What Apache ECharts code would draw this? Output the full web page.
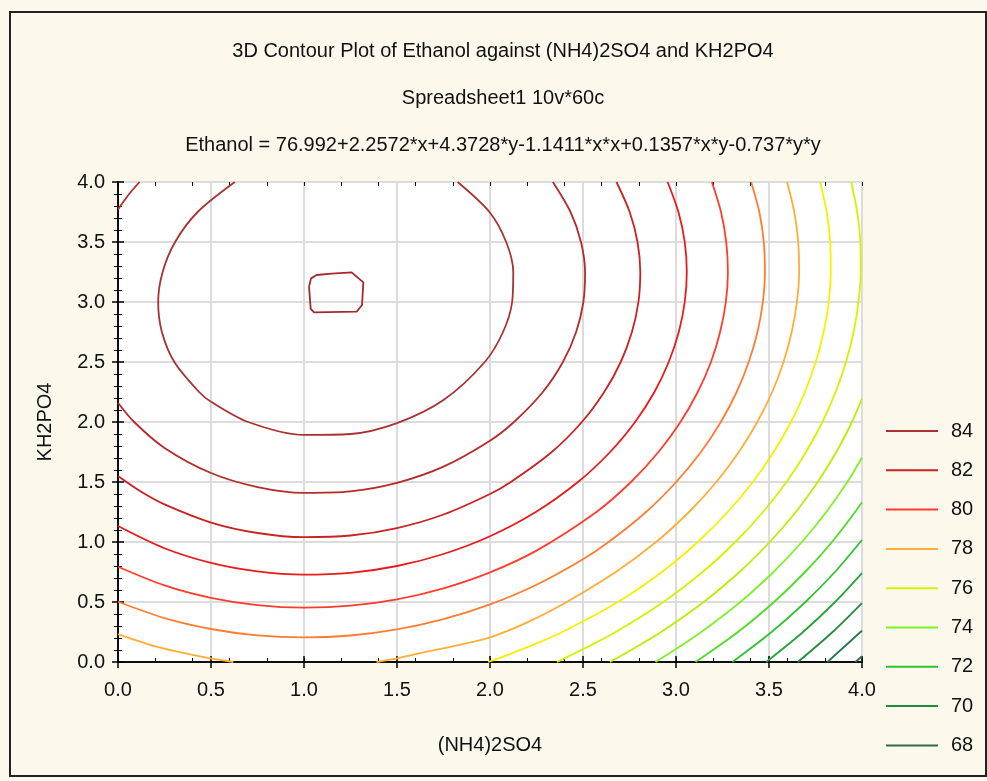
<!DOCTYPE html>
<html><head><meta charset="utf-8">
<script src="https://cdn.jsdelivr.net/npm/echarts@6/dist/echarts.min.js"></script>
<style>html,body{margin:0;padding:0;background:#fcf8ec;}#c{width:987px;height:781px;}</style>
</head><body><div id="c"></div>
<script>
// ---- text ----
const titleLines = ['3D Contour Plot of Ethanol against (NH4)2SO4 and KH2PO4', 'Spreadsheet1 10v*60c',
  'Ethanol = 76.992+2.2572*x+4.3728*y-1.1411*x*x+0.1357*x*y-0.737*y*y'];
const xName = '(NH4)2SO4';
const yName = 'KH2PO4';
const legendLevels = ['84', '82', '80', '78', '76', '74', '72', '70', '68'];

// ---- contour lines: [x, y] points, per level ----
const c85 = [[1.027,3.128],[1.038,3.197],[1.068,3.225],[1.149,3.236],[1.256,3.247],[1.319,3.164],[1.312,2.975],[1.283,2.919],[1.054,2.914],[1.036,2.942],[1.027,3.128]];
const c84 = [[0.628,4],[0.428,3.75],[0.307,3.5],[0.240,3.25],[0.216,3.0],[0.236,2.75],[0.303,2.5],[0.436,2.25],[0.5,2.169],[0.700,2.0],[1.0,1.892],[1.25,1.900],[1.5,1.991],[1.75,2.183],[1.972,2.5],[2.070,2.75],[2.119,3.0],[2.125,3.25],[2.087,3.5],[1.997,3.75],[1.826,4.0]];
const c83a = [[0,3.772],[0.060,3.9],[0.116,4]];
const c83b = [[0,2.161],[0.087,2.0],[0.25,1.784],[0.5,1.575],[0.75,1.458],[1.0,1.410],[1.25,1.422],[1.5,1.493],[1.75,1.628],[2.0,1.844],[2.129,2.0],[2.284,2.25],[2.392,2.5],[2.463,2.75],[2.502,3.0],[2.511,3.25],[2.489,3.5],[2.433,3.75],[2.338,4.0]];
const c82 = [[0,1.550],[0.125,1.418],[0.25,1.313],[0.5,1.162],[0.75,1.075],[1.0,1.040],[1.25,1.054],[1.5,1.116],[1.75,1.229],[2.0,1.400],[2.112,1.5],[2.332,1.75],[2.494,2.0],[2.614,2.25],[2.703,2.5],[2.763,2.75],[2.798,3.0],[2.808,3.25],[2.793,3.5],[2.751,3.75],[2.680,4.0]];
const c81 = [[0,1.133],[0.25,0.948],[0.5,0.826],[0.75,0.755],[1.0,0.728],[1.25,0.743],[1.5,0.800],[1.75,0.900],[2.0,1.048],[2.246,1.25],[2.473,1.5],[2.646,1.75],[2.780,2.0],[2.884,2.25],[2.961,2.5],[3.015,2.75],[3.047,3.0],[3.058,3.25],[3.047,3.5],[3.013,3.75],[2.955,4.0]];
const c80 = [[0,0.794],[0.25,0.639],[0.5,0.535],[0.75,0.474],[1.0,0.453],[1.25,0.469],[1.5,0.522],[1.75,0.614],[2.0,0.747],[2.25,0.928],[2.572,1.25],[2.758,1.5],[2.906,1.75],[3.024,2.0],[3.117,2.25],[3.188,2.5],[3.237,2.75],[3.268,3.0],[3.279,3.25],[3.270,3.5],[3.242,3.75],[3.193,4.0]];
const c79 = [[0,0.502],[0.25,0.366],[0.5,0.275],[0.75,0.222],[1.0,0.205],[1.25,0.221],[1.5,0.272],[1.75,0.357],[2.0,0.480],[2.25,0.644],[2.5,0.857],[2.638,1.0],[2.839,1.25],[3.001,1.5],[3.134,1.75],[3.241,2.0],[3.326,2.25],[3.391,2.5],[3.438,2.75],[3.467,3.0],[3.478,3.25],[3.472,3.5],[3.448,3.75],[3.404,4.0]];
const c78a = [[0,0.232],[0.2,0.13],[0.4,0.06],[0.5,0.03],[0.62,0]];
const c78b = [[1.39,0],[1.5,0.03],[1.66,0.086],[1.8,0.13],[2.0,0.205],[2.2,0.33],[2.401,0.49],[2.676,0.75],[2.893,1.0],[3.070,1.25],[3.217,1.5],[3.338,1.75],[3.437,2.0],[3.517,2.25],[3.578,2.5],[3.622,2.75],[3.650,3.0],[3.662,3.25],[3.657,3.5],[3.636,3.75],[3.597,4.0]];
const c77 = [[1.99,0],[2.1,0.062],[2.25,0.155],[2.389,0.25],[2.688,0.5],[2.924,0.75],[3.117,1.0],[3.278,1.25],[3.413,1.5],[3.525,1.75],[3.618,2.0],[3.693,2.25],[3.751,2.5],[3.794,2.75],[3.821,3.0],[3.832,3.25],[3.829,3.5],[3.810,3.75],[3.775,4.0]];
const c76 = [[2.36,0],[2.5,0.107],[2.676,0.25],[2.932,0.5],[3.143,0.75],[3.319,1.0],[3.468,1.25],[3.594,1.5],[3.699,1.75],[3.787,2.0],[3.858,2.25],[3.914,2.5],[3.955,2.75],[3.981,3.0],[3.993,3.25],[3.991,3.5],[3.974,3.75],[3.942,4.0]];
const c75 = [[2.645,0],[2.75,0.092],[2.920,0.25],[3.149,0.5],[3.341,0.75],[3.504,1.0],[3.644,1.25],[3.762,1.5],[3.862,1.75],[3.946,2.0],[4,2.194]];
const c74 = [[2.89,0],[3.0,0.108],[3.136,0.25],[3.346,0.5],[3.524,0.75],[3.677,1.0],[3.808,1.25],[3.921,1.5],[4,1.704]];
const c73 = [[3.105,0],[3.333,0.25],[3.527,0.5],[3.694,0.75],[3.839,1.0],[3.963,1.25],[4,1.331]];
const c72 = [[3.303,0],[3.514,0.25],[3.696,0.5],[3.854,0.75],[4,1.017]];
const c71 = [[3.485,0],[3.683,0.25],[3.855,0.5],[4,0.741]];
const c70 = [[3.655,0],[3.842,0.25],[4,0.491]];
const c69 = [[3.814,0],[3.992,0.25],[4,0.262]];
const c68 = [[3.965,0],[4,0.049]];

const levelColors = {
  '85':'#a3292b','84':'#a83232','83':'#b52a2a','82':'#c82222','81':'#ea1a1a','80':'#ff3c2c',
  '79':'#ff7c30','78':'#ffad38','77':'#f6f000','76':'#d6f200','75':'#b8f000','74':'#80f028',
  '73':'#4cde22','72':'#30c230','71':'#26a43a','70':'#248a3e','69':'#25784a','68':'#2c6a52'
};

const lines = [
  ['85', c85], ['84', c84], ['83', c83a], ['83', c83b], ['82', c82], ['81', c81], ['80', c80],
  ['79', c79], ['78', c78a], ['78', c78b], ['77', c77], ['76', c76], ['75', c75], ['74', c74],
  ['73', c73], ['72', c72], ['71', c71], ['70', c70], ['69', c69], ['68', c68]
];

const FONT = 'Liberation Sans, Arial, sans-serif';
const txt = {color: '#111', fontFamily: FONT, fontSize: 20};
const fmt = v => v.toFixed(1);

const series = lines.map(([name, pts]) => ({
  type: 'line', name: name, data: pts, xAxisIndex: 0, yAxisIndex: 0,
  symbol: 'none', smooth: name === '85' ? false : 0.3, clip: true,
  lineStyle: {color: levelColors[name], width: 1.8},
  itemStyle: {color: levelColors[name]},
  emphasis: {disabled: true}, animation: false
}));

const chart = echarts.init(document.getElementById('c'), null, {renderer: 'canvas'});
chart.setOption({
  backgroundColor: '#fcf8ec',
  animation: false,
  title: titleLines.map((t, i) => ({
    text: t, left: 498, top: 36 + i * 47, textAlign: 'center',
    textStyle: Object.assign({}, txt, {fontWeight: 'normal'})
  })),
  graphic: [{type: 'rect', shape: {x: 10, y: 12, width: 976, height: 764},
    style: {fill: null, stroke: '#222', lineWidth: 2}, silent: true, z: -1}],
  grid: {left: 118, top: 182, right: 125, bottom: 119, show: true, backgroundColor: '#ffffff',
    borderWidth: 0, containLabel: false, outerBoundsMode: 'none'},
  legend: {
    data: legendLevels, orient: 'vertical', left: 881, top: 416, itemWidth: 52, itemHeight: 14,
    itemGap: 19.3, icon: 'path://M0,6L52,6L52,8L0,8Z', selectedMode: false,
    textStyle: Object.assign({}, txt, {lineHeight: 20, padding: [0, 0, 0, 8]})
  },
  xAxis: [
    {type: 'value', position: 'bottom', min: 0, max: 4, interval: 0.5,
      name: xName, nameLocation: 'middle', nameGap: 73, nameTextStyle: txt,
      axisLine: {show: true, lineStyle: {color: '#000', width: 1.5}},
      axisTick: {show: true, inside: true, length: 6, lineStyle: {color: '#000', width: 1.5}},
      axisLabel: Object.assign({margin: 18, formatter: fmt}, txt),
      splitLine: {show: true, lineStyle: {color: '#dcdcdc', width: 2}}},
    {type: 'value', position: 'top', min: 0, max: 4, interval: 0.5,
      axisLine: {show: true, lineStyle: {color: '#000', width: 1.5}},
      axisTick: {show: true, inside: true, length: 6, lineStyle: {color: '#000', width: 1.5}},
      axisLabel: {show: false}, splitLine: {show: false}},
    {type: 'value', position: 'bottom', min: 0, max: 4, interval: 0.2,
      axisLine: {show: false}, axisLabel: {show: false}, splitLine: {show: false},
      axisTick: {show: true, inside: true, length: 4, lineStyle: {color: '#000', width: 1}}},
    {type: 'value', position: 'top', min: 0, max: 4, interval: 0.2,
      axisLine: {show: false}, axisLabel: {show: false}, splitLine: {show: false},
      axisTick: {show: true, inside: true, length: 4, lineStyle: {color: '#000', width: 1}}}
  ],
  yAxis: [
    {type: 'value', position: 'left', min: 0, max: 4, interval: 0.5,
      name: yName, nameLocation: 'middle', nameGap: 63, nameTextStyle: txt,
      axisLine: {show: true, lineStyle: {color: '#000', width: 1.5}},
      axisTick: {show: true, inside: true, length: 6, lineStyle: {color: '#000', width: 1.5}},
      minorTick: {show: true, splitNumber: 5, length: 4, lineStyle: {color: '#000', width: 1}},
      axisLabel: Object.assign({margin: 13, formatter: fmt}, txt),
      splitLine: {show: true, lineStyle: {color: '#dcdcdc', width: 2}}},
    {type: 'value', position: 'right', min: 0, max: 4, interval: 0.5,
      axisLine: {show: true, lineStyle: {color: '#000', width: 1.5}},
      axisTick: {show: true, inside: true, length: 6, lineStyle: {color: '#000', width: 1.5}},
      minorTick: {show: true, splitNumber: 5, length: 4, lineStyle: {color: '#000', width: 1}},
      axisLabel: {show: false}, splitLine: {show: false}}
  ],
  series: series
});
</script></body></html>
